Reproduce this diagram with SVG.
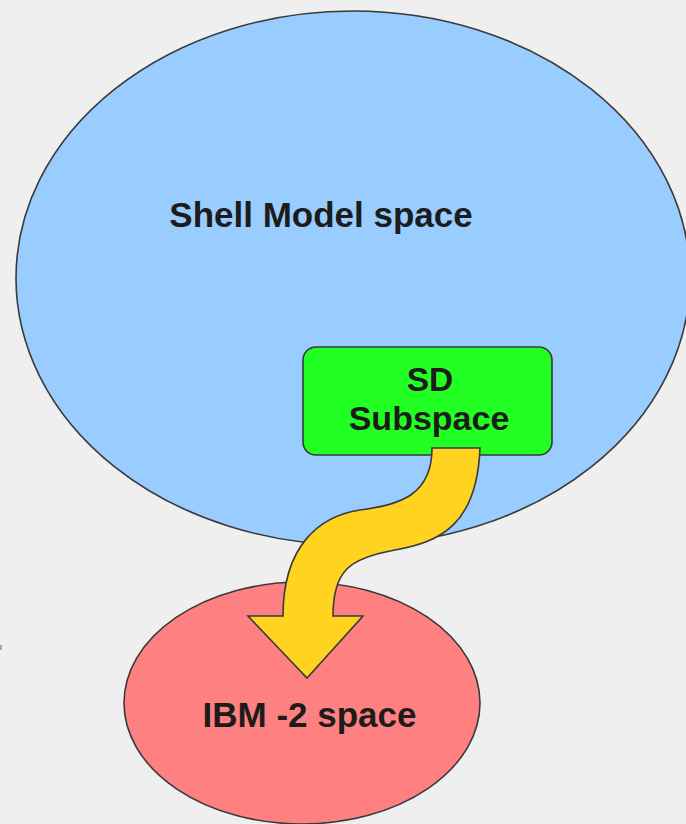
<svg xmlns="http://www.w3.org/2000/svg" width="686" height="824" viewBox="0 0 686 824">
  <style>
    .shape { stroke: #3a3a3a; stroke-width: 1.6; }
    .label { font-family: "Liberation Sans", Arial, sans-serif; font-weight: bold; fill: #1c1c1c; text-anchor: middle; }
  </style>
  <rect x="0" y="0" width="686" height="824" fill="#efefef"/>
  <rect x="0" y="645" width="2" height="5" fill="#8fa9c6"/>

  <g id="shell-model-space">
    <ellipse class="shape" cx="353" cy="278" rx="337" ry="267" fill="#99ccff"/>
    <text class="label" x="321" y="227" font-size="35">Shell Model space</text>
  </g>

  <g id="ibm2-space">
    <ellipse class="shape" cx="302" cy="703" rx="178" ry="121" fill="#ff8080"/>
    <text class="label" x="309.5" y="727" font-size="35">IBM -2 space</text>
  </g>

  <g id="sd-subspace">
    <rect class="shape" x="303" y="347" width="249" height="108" rx="13" ry="13" fill="#22ff22"/>
    <text class="label" x="430" y="391" font-size="33.5">SD</text>
    <text class="label" x="429" y="430" font-size="34">Subspace</text>
  </g>

  <g id="connectors">
    <path class="shape" fill="#ffd320" stroke-linejoin="miter"
          d="M432,448 C432,495 400,505 360,510 C320,516 283,545 283,616 L248,616 L307,678 L363,616 L333,616 C333,570 350,558 395,550 C440,542 477,525 480,448 Z"/>
  </g>
</svg>
